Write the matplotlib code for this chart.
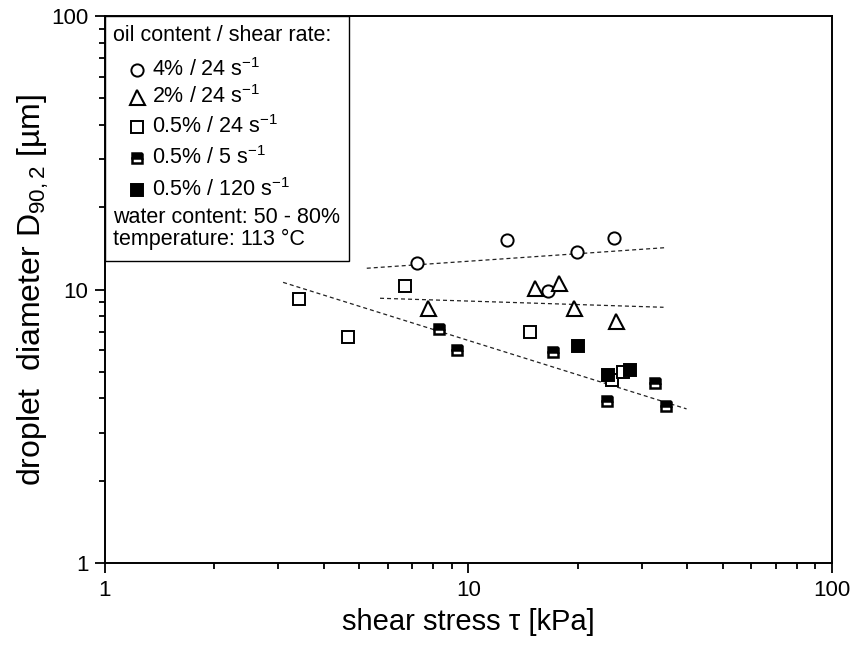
import matplotlib
matplotlib.use('Agg')
import matplotlib.pyplot as plt
from matplotlib.patches import Rectangle

plt.rcParams['font.family'] = ['Liberation Sans', 'DejaVu Sans']
plt.rcParams['mathtext.fontset'] = 'custom'
plt.rcParams['mathtext.rm'] = 'Liberation Sans'
plt.rcParams['mathtext.it'] = 'Liberation Sans:italic'

# shear stress [kPa] vs droplet diameter D90,2 [um]
circ_x = [7.20, 12.74, 16.58, 19.93, 25.18]          # 4% / 24 1/s
circ_y = [12.47, 15.17, 9.90, 13.68, 15.47]
tri_x = [7.75, 15.24, 17.78, 19.55, 25.41]           # 2% / 24 1/s
tri_y = [8.58, 10.15, 10.54, 8.58, 7.69]
open_x = [3.42, 4.67, 6.67, 14.77, 24.77, 26.66]     # 0.5% / 24 1/s
open_y = [9.25, 6.69, 10.30, 7.01, 4.67, 4.98]
half_x = [8.29, 9.28, 17.12, 24.0, 32.6, 34.88]      # 0.5% / 5 1/s
half_y = [7.17, 6.01, 5.93, 3.91, 4.56, 3.76]
full_x = [20.05, 24.25, 27.82]                       # 0.5% / 120 1/s
full_y = [6.21, 4.87, 5.08]

# power-law trend lines (end points)
fit_circ_x = [5.25, 34.7]
fit_circ_y = [11.96, 14.22]
fit_tri_x = [5.71, 34.4]
fit_tri_y = [9.29, 8.61]
fit_sq_x = [3.09, 39.8]
fit_sq_y = [10.62, 3.66]

labels = ['4% / 24 s$^{-1}$', '2% / 24 s$^{-1}$', '0.5% / 24 s$^{-1}$',
          '0.5% / 5 s$^{-1}$', '0.5% / 120 s$^{-1}$']

fig = plt.figure(figsize=(8.55, 6.46), dpi=100)
ax = fig.add_axes([0.1228, 0.1285, 0.8503, 0.8467])
ax.set_xscale('log')
ax.set_yscale('log')
ax.set_xlim(1, 100)
ax.set_ylim(1, 100)

dash = dict(color='#222222', lw=0.9, dashes=(3.2, 2.4), zorder=2)
ax.plot(fit_circ_x, fit_circ_y, **dash)
ax.plot(fit_tri_x, fit_tri_y, **dash)
ax.plot(fit_sq_x, fit_sq_y, **dash)

styles = [
    dict(marker='o', ms=8.8, mew=1.4, mfc='white', mec='black'),
    dict(marker='^', ms=10.8, mew=1.5, mfc='white', mec='black'),
    dict(marker='s', ms=8.0, mew=1.4, mfc='white', mec='black'),
    dict(marker='s', ms=7.5, mew=1.8, mfc='black', mec='black',
         fillstyle='top', markerfacecoloralt='white'),
    dict(marker='s', ms=8.0, mew=1.4, mfc='black', mec='black'),
]
series = [(circ_x, circ_y), (tri_x, tri_y), (open_x, open_y),
          (half_x, half_y), (full_x, full_y)]
for (xs, ys), st in zip(series, styles):
    ax.plot(xs, ys, ls='none', zorder=3, **st)

for sp in ax.spines.values():
    sp.set_linewidth(1.4)
ax.tick_params(which='both', direction='out', width=1.3, labelsize=16,
               top=False, right=False)
ax.tick_params(which='major', length=7, pad=5)
ax.tick_params(which='minor', length=4)
ax.set_xticks([1, 10, 100])
ax.set_xticklabels(['1', '10', '100'])
ax.set_yticks([1, 10, 100])
ax.set_yticklabels(['1', '10', '100'])

ax.set_xlabel('shear stress \u03c4 [kPa]', fontsize=21, labelpad=5)
ax.set_ylabel('droplet  diameter D$_{90,2}$ [\u00b5m]', fontsize=23, labelpad=0)

# legend box
T = ax.transAxes
ax.add_patch(Rectangle((0, 0.552), 0.3356, 0.448, transform=T, fill=False,
                       lw=1.0, ec='black', zorder=5))
ax.text(0.011, 0.9644, 'oil content / shear rate:', transform=T,
        fontsize=15.5, va='center', ha='left', zorder=6)
row_y = [0.9013, 0.8528, 0.7980, 0.7404, 0.6819]
for yy, st, lab in zip(row_y, styles, labels):
    ax.plot([0.0436], [yy], transform=T, ls='none', clip_on=False, zorder=6, **st)
    ax.text(0.0642, yy, lab, transform=T, fontsize=15.5, va='center',
            ha='left', zorder=6)
ax.text(0.011, 0.6325, 'water content: 50 - 80%', transform=T,
        fontsize=15.5, va='center', ha='left', zorder=6)
ax.text(0.011, 0.5923, 'temperature: 113 \u00b0C', transform=T,
        fontsize=15.5, va='center', ha='left', zorder=6)

fig.savefig('out.png', dpi=100)
